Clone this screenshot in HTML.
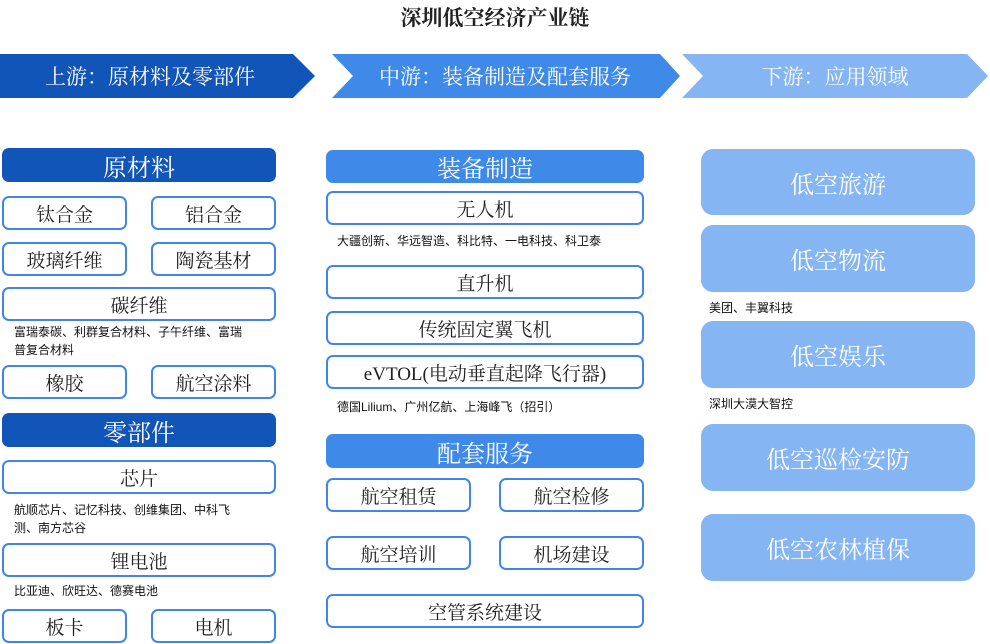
<!DOCTYPE html>
<html><head><meta charset="utf-8"><style>
body{margin:0;width:990px;height:644px;background:#fff;position:relative;overflow:hidden;font-family:"Liberation Serif","Noto Serif CJK SC",serif;}
.a{position:absolute;box-sizing:border-box;display:flex;align-items:center;justify-content:center;}
.b{border:2px solid #3f86e8;border-radius:7px;background:#fff;color:#222;font-size:19px;}
.h1{background:#1155b8;color:#fff;border-radius:7px;font-size:24px;}
.h2{background:#3f8ae8;color:#fff;border-radius:7px;font-size:24px;}
.r{background:#86b5f3;color:#fff;border-radius:12px;font-size:24px;}
.t{position:absolute;font-size:12px;color:#111;line-height:18px;font-family:"Liberation Sans","Noto Sans CJK SC",sans-serif;}
</style></head><body>
<div class="a" style="left:0;top:2px;width:990px;height:30px;font-size:21px;font-weight:bold;color:#222;">深圳低空经济产业链</div>
<svg style="position:absolute;left:0;top:0" width="990" height="110">
<polygon points="0,54 293,54 315,76 293,98 0,98" fill="#1155b8"/>
<polygon points="332,54 660,54 680,76 660,98 332,98 353,76" fill="#3f8ae8"/>
<polygon points="682,54 967,54 988,76 967,98 682,98 703,76" fill="#86b5f3"/>
<text x="150" y="84" font-size="21" fill="#fff" text-anchor="middle" font-family="Liberation Serif, Noto Serif CJK SC, serif">上游：原材料及零部件</text>
<text x="505" y="84" font-size="21" fill="#fff" text-anchor="middle" font-family="Liberation Serif, Noto Serif CJK SC, serif">中游：装备制造及配套服务</text>
<text x="835" y="84" font-size="21" fill="#fff" text-anchor="middle" font-family="Liberation Serif, Noto Serif CJK SC, serif">下游：应用领域</text>
</svg>
<div class="a h1" style="left:2px;top:148px;width:274px;height:34px;">原材料</div>
<div class="a b" style="left:2px;top:196px;width:125px;height:34px;">钛合金</div>
<div class="a b" style="left:151px;top:196px;width:125px;height:34px;">铝合金</div>
<div class="a b" style="left:2px;top:242px;width:125px;height:34px;">玻璃纤维</div>
<div class="a b" style="left:151px;top:242px;width:125px;height:34px;">陶瓷基材</div>
<div class="a b" style="left:2px;top:287px;width:274px;height:34px;">碳纤维</div>
<div class="t" style="left:14px;top:323px;width:235px;">富瑞泰碳、利群复合材料、子午纤维、富瑞普复合材料</div>
<div class="a b" style="left:2px;top:365px;width:125px;height:34px;">橡胶</div>
<div class="a b" style="left:151px;top:365px;width:125px;height:34px;">航空涂料</div>
<div class="a h1" style="left:2px;top:413px;width:274px;height:34px;">零部件</div>
<div class="a b" style="left:2px;top:460px;width:274px;height:34px;">芯片</div>
<div class="t" style="left:14px;top:501px;width:236px;">航顺芯片、记忆科技、创维集团、中科飞测、南方芯谷</div>
<div class="a b" style="left:2px;top:543px;width:274px;height:34px;">锂电池</div>
<div class="t" style="left:14px;top:582px;">比亚迪、欣旺达、德赛电池</div>
<div class="a b" style="left:2px;top:609px;width:125px;height:34px;">板卡</div>
<div class="a b" style="left:151px;top:609px;width:125px;height:34px;">电机</div>

<div class="a h2" style="left:326px;top:150px;width:318px;height:33px;">装备制造</div>
<div class="a b" style="left:326px;top:191px;width:318px;height:34px;">无人机</div>
<div class="t" style="left:337px;top:232px;">大疆创新、华远智造、科比特、一电科技、科卫泰</div>
<div class="a b" style="left:326px;top:265px;width:318px;height:34px;">直升机</div>
<div class="a b" style="left:326px;top:311px;width:318px;height:34px;">传统固定翼飞机</div>
<div class="a b" style="left:326px;top:355px;width:318px;height:34px;">eVTOL(电动垂直起降飞行器)</div>
<div class="t" style="left:337px;top:398px;">德国Lilium、广州亿航、上海峰飞（招引）</div>
<div class="a h2" style="left:326px;top:434px;width:318px;height:34px;">配套服务</div>
<div class="a b" style="left:326px;top:478px;width:145px;height:34px;">航空租赁</div>
<div class="a b" style="left:499px;top:478px;width:145px;height:34px;">航空检修</div>
<div class="a b" style="left:326px;top:536px;width:145px;height:34px;">航空培训</div>
<div class="a b" style="left:499px;top:536px;width:145px;height:34px;">机场建设</div>
<div class="a b" style="left:326px;top:594px;width:318px;height:34px;">空管系统建设</div>

<div class="a r" style="left:701px;top:149px;width:274px;height:66px;">低空旅游</div>
<div class="a r" style="left:701px;top:225px;width:274px;height:67px;">低空物流</div>
<div class="t" style="left:709px;top:299px;">美团、丰翼科技</div>
<div class="a r" style="left:701px;top:321px;width:274px;height:67px;">低空娱乐</div>
<div class="t" style="left:709px;top:395px;">深圳大漠大智控</div>
<div class="a r" style="left:701px;top:424px;width:274px;height:67px;">低空巡检安防</div>
<div class="a r" style="left:701px;top:514px;width:274px;height:67px;">低空农林植保</div>
</body></html>
